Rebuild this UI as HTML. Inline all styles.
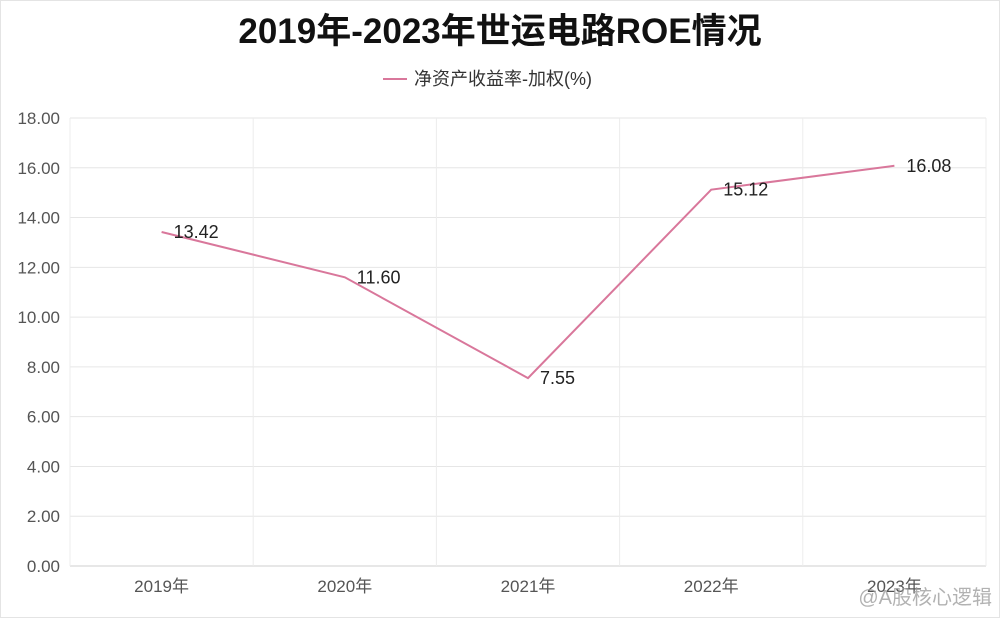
<!DOCTYPE html>
<html><head><meta charset="utf-8">
<style>
html,body{margin:0;padding:0;background:#fff;}
body{width:1000px;height:618px;overflow:hidden;font-family:"Liberation Sans","Noto Sans CJK SC",sans-serif;}
</style></head>
<body>
<svg id="chart" width="1000" height="618" xmlns="http://www.w3.org/2000/svg" font-family="Liberation Sans, Noto Sans CJK SC, sans-serif">
<rect x="0.5" y="0.5" width="999" height="617" fill="#fff" stroke="#e4e4e4"/>
<text x="500" y="43" text-anchor="middle" font-size="35" font-weight="bold" fill="#111">2019年-2023年世运电路ROE情况</text>
<g>
<line x1="383" y1="79" x2="407" y2="79" stroke="#d9779b" stroke-width="2"/>
<text x="414" y="85" font-size="18" fill="#333">净资产收益率-加权(%)</text>
</g>
<g id="grid"></g>
<g id="marks"></g>
<text x="992" y="604" text-anchor="end" font-size="20" fill="#999" opacity="0.75">@A股核心逻辑</text>
</svg>
<script>
const categories = ["2019年","2020年","2021年","2022年","2023年"];
const roeValues = [13.42,11.60,7.55,15.12,16.08];
const yTicks = [0,2,4,6,8,10,12,14,16,18];
const NS="http://www.w3.org/2000/svg";
const L=70,R=986,T=118,B=566,yMax=18;
const band=(R-L)/categories.length;
const xs=i=>L+band*(i+0.5);
const ys=v=>B-(v/yMax)*(B-T);
function mk(tag,attrs,parent){const e=document.createElementNS(NS,tag);for(const k in attrs)e.setAttribute(k,attrs[k]);parent.appendChild(e);return e;}
const grid=document.getElementById('grid'),marks=document.getElementById('marks');
yTicks.forEach(t=>{
  const y=ys(t);
  const ln=mk('line',{x1:L,x2:R,y1:y,y2:y,stroke:t===0?'#cfcfcf':'#e6e6e6','stroke-width':1},grid);
  
  
  const tx=mk('text',{x:L-10,y:y+6,'text-anchor':'end','font-size':17,fill:'#555'},grid);
  tx.textContent=t.toFixed(2);
  
  
});
for(let i=0;i<=categories.length;i++){
  const x=L+band*i;
  const ln=mk('line',{x1:x,x2:x,y1:T,y2:B,stroke:'#ececec','stroke-width':1},grid);
  
  
}
categories.forEach((c,i)=>{
  const tx=mk('text',{x:xs(i),y:592,'text-anchor':'middle','font-size':17,fill:'#555'},grid);
  tx.textContent=c;
  
  
});
const pl=mk('polyline',{points:roeValues.map((v,i)=>xs(i)+','+ys(v)).join(' '),fill:'none',stroke:'#d9779b','stroke-width':2},marks);


roeValues.forEach((v,i)=>{
  const tx=mk('text',{x:xs(i)+12,y:ys(v)+6,'font-size':18,fill:'#222'},marks);
  tx.textContent=v.toFixed(2);
  
  
});
</script>
</body></html>
